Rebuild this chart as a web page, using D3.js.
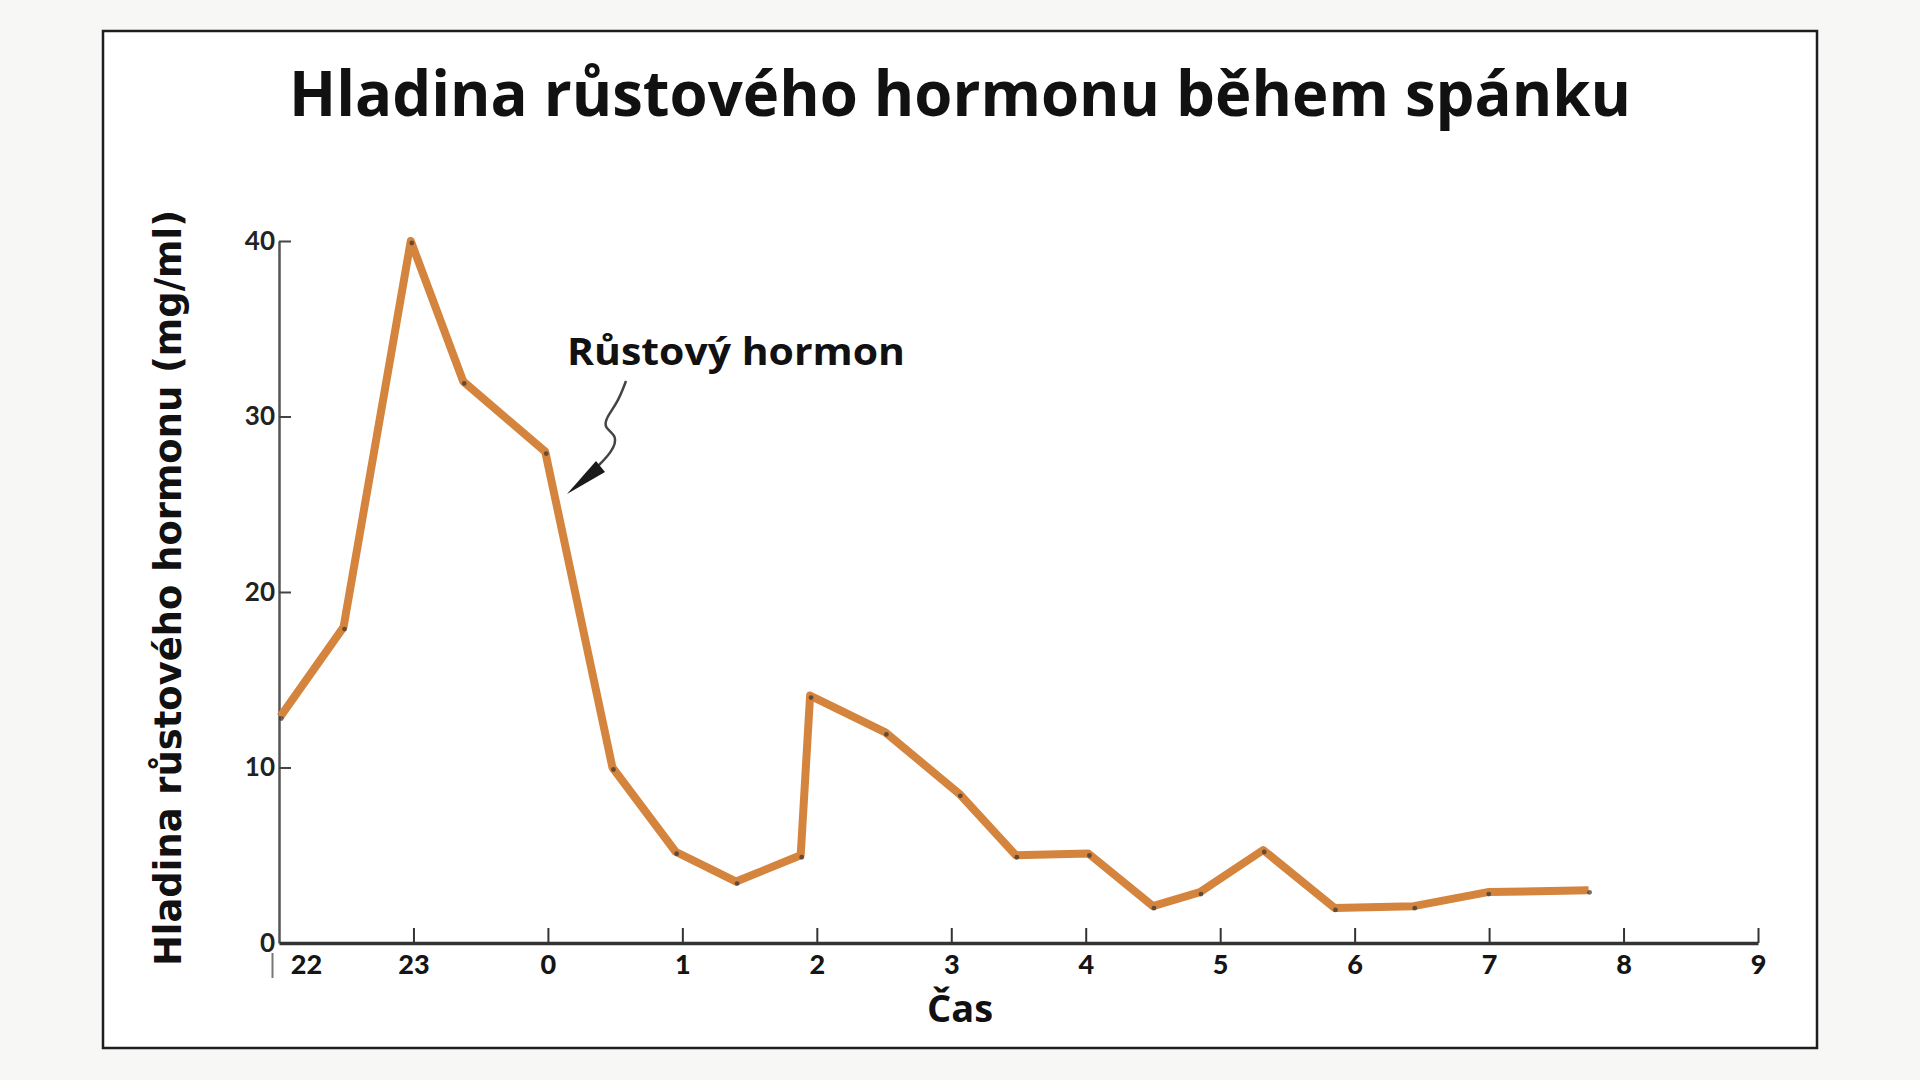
<!DOCTYPE html>
<html>
<head>
<meta charset="utf-8">
<script src="https://cdn.jsdelivr.net/npm/d3@7"></script>
<style>
  html, body { margin: 0; padding: 0; background: #f7f7f5; }
  svg { display: block; }
</style>
</head>
<body>
<div id="chart_div"></div>
<script>
// Values (hours counted from 22:00)
const hours  = [0.01, 0.48, 0.98, 1.37, 1.98, 2.48, 2.95, 3.40, 3.88, 3.95, 4.51, 5.06, 5.48, 6.02, 6.50, 6.85, 7.32, 7.85, 8.44, 8.99, 9.74];
const levels = [12.9, 18.0, 40.0, 32.0, 28.0, 10.0, 5.2, 3.5, 5.0, 14.1, 12.0, 8.5, 5.0, 5.1, 2.1, 2.9, 5.3, 2.0, 2.1, 2.9, 3.0];

const xTickValues = [0, 1, 2, 3, 4, 5, 6, 7, 8, 9, 10, 11];
const xTickLabels = ["22", "23", "0", "1", "2", "3", "4", "5", "6", "7", "8", "9"];
const yTickValues = [0, 10, 20, 30, 40];

const titleText = "Hladina růstového hormonu během spánku";
const yLabelText = "Hladina růstového hormonu (mg/ml)";
const xLabelText = "Čas";
const seriesName = "Růstový hormon";

const width = 1920;
const height = 1080;

const svg = d3.select("#chart_div").append("svg")
  .attr("width", width)
  .attr("height", height);

// white card with a dark frame
svg.append("rect")
  .attr("x", 103).attr("y", 31)
  .attr("width", 1714).attr("height", 1017)
  .attr("fill", "#fff")
  .attr("stroke", "#1e1e1e")
  .attr("stroke-width", 2.5);

// scales
const x = d3.scaleLinear().domain([0, 11]).range([279, 1758]);
const y = d3.scaleLinear().domain([0, 40]).range([943, 241]);

// title
svg.append("text")
  .attr("x", 960).attr("y", 116)
  .attr("text-anchor", "middle")
  .attr("font-family", "'Open Sans', sans-serif")
  .attr("font-weight", 700)
  .attr("font-size", 62)
  .attr("textLength", 1342)
  .attr("lengthAdjust", "spacingAndGlyphs")
  .attr("fill", "#111")
  .text(titleText);

// y axis (ticks point inward)
const yAxis = svg.append("g")
  .attr("transform", `translate(${x(0)},0)`)
  .call(d3.axisLeft(y).tickValues(yTickValues).tickSizeInner(-12).tickSizeOuter(0).tickPadding(4));
yAxis.select(".domain").attr("stroke", "#555").attr("stroke-width", 2.5);
yAxis.selectAll(".tick line").attr("stroke", "#444").attr("stroke-width", 2);
yAxis.selectAll(".tick text")
  .attr("font-family", "Lato, sans-serif")
  .attr("font-weight", 700)
  .attr("font-size", 26)
  .attr("fill", "#222");
// the zero tick has no mark of its own
yAxis.selectAll(".tick").filter(d => d === 0).select("line").remove();

// x axis (ticks point up)
const xAxis = svg.append("g")
  .attr("transform", `translate(0,${y(0)})`)
  .call(d3.axisBottom(x)
    .tickValues(xTickValues)
    .tickSizeInner(-15)
    .tickSizeOuter(0)
    .tickPadding(12)
    .tickFormat((d, i) => xTickLabels[i]));
xAxis.select(".domain").attr("stroke", "#333").attr("stroke-width", 3.5);
xAxis.selectAll(".tick line").attr("stroke", "#333").attr("stroke-width", 2);
xAxis.selectAll(".tick text")
  .attr("font-family", "Lato, sans-serif")
  .attr("font-weight", 900)
  .attr("font-size", 27)
  .attr("fill", "#151515");

// first hour: label sits right of the corner, short tick hangs below
const first = xAxis.selectAll(".tick").filter(d => d === 0);
first.select("text").attr("dx", 27);
first.select("line").attr("x1", -7).attr("x2", -7).attr("y1", 10).attr("y2", 35).attr("stroke", "#777");

// axis titles
svg.append("text")
  .attr("transform", "translate(181,588) rotate(-90)")
  .attr("text-anchor", "middle")
  .attr("font-family", "'DejaVu Sans', sans-serif")
  .attr("font-weight", 700)
  .attr("font-size", 37)
  .attr("textLength", 756)
  .attr("lengthAdjust", "spacingAndGlyphs")
  .attr("fill", "#111")
  .text(yLabelText);

svg.append("text")
  .attr("x", 960).attr("y", 1022)
  .attr("text-anchor", "middle")
  .attr("font-family", "'Open Sans', sans-serif")
  .attr("font-weight", 700)
  .attr("font-size", 38)
  .attr("fill", "#111")
  .text(xLabelText);

// hormone curve
const points = hours.map((h, i) => [h, levels[i]]);
const line = d3.line()
  .x(d => x(d[0]))
  .y(d => y(d[1]));

svg.append("path")
  .datum(points)
  .attr("fill", "none")
  .attr("stroke", "#d4843c")
  .attr("stroke-width", 8)
  .attr("stroke-linejoin", "round")
  .attr("d", line);

// little ink dots from the original plot
svg.append("g")
  .selectAll("circle")
  .data(points)
  .join("circle")
  .attr("cx", d => x(d[0]) + 1)
  .attr("cy", d => y(d[1]) + 2)
  .attr("r", 2.4)
  .attr("fill", "#333")
  .attr("fill-opacity", 0.7);

// series annotation with the squiggly arrow
svg.append("text")
  .attr("x", 567).attr("y", 365)
  .attr("font-family", "'Open Sans', sans-serif")
  .attr("font-weight", 700)
  .attr("font-size", 38)
  .attr("textLength", 338)
  .attr("lengthAdjust", "spacingAndGlyphs")
  .attr("fill", "#111")
  .text(seriesName);

const arrow = d3.line().curve(d3.curveBasis);
svg.append("path")
  .attr("d", arrow([[626, 381], [618, 402], [606, 418], [604, 428], [618, 436], [612, 452], [598, 466]]))
  .attr("fill", "none")
  .attr("stroke", "#444")
  .attr("stroke-width", 2.5);
svg.append("path")
  .attr("d", "M567,494 L596,461 L605,472 Z")
  .attr("fill", "#1a1a1a");
</script>
</body>
</html>
